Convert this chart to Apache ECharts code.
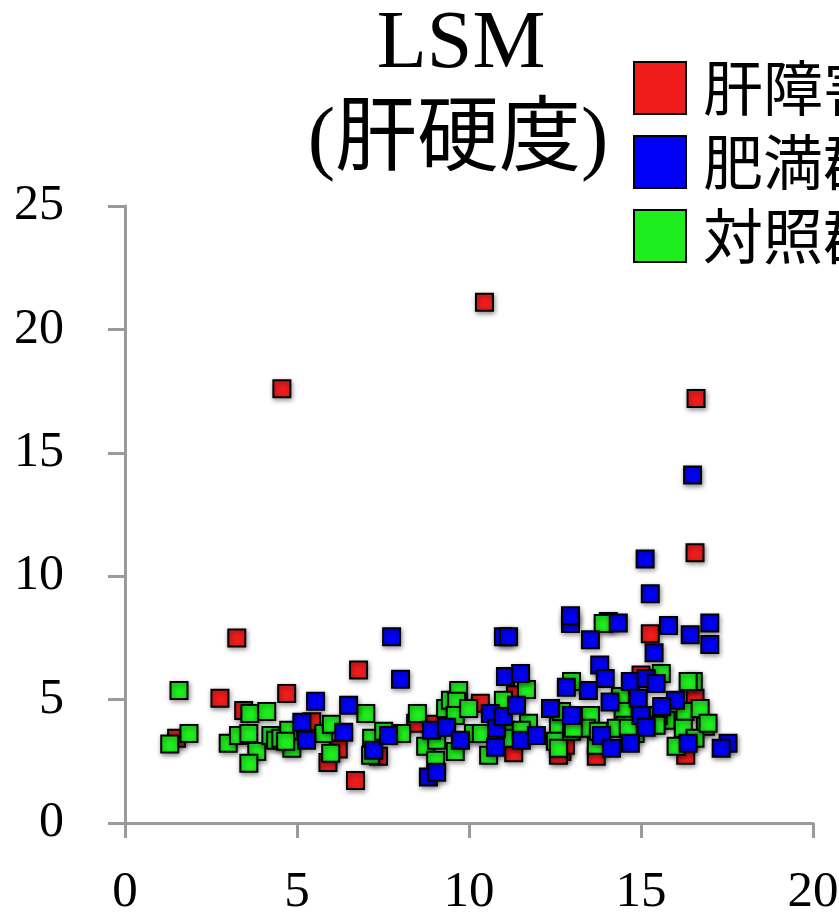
<!DOCTYPE html>
<html>
<head>
<meta charset="utf-8">
<script src="https://cdn.jsdelivr.net/npm/echarts@6/dist/echarts.min.js"></script>
<style>
  html, body { margin: 0; padding: 0; background: #fff; }
  #chart { width: 839px; height: 913px; }
</style>
</head>
<body>
<div id="chart"></div>
<script>
// LSM (liver stiffness) by group: [x, LSM]
const seriesNames = ['肝障害群', '肥満群', '対照群'];
const xTicks = [0, 5, 10, 15, 20];
const yTicks = [0, 5, 10, 15, 20, 25];

const liverPts = [
  [4.56, 17.6], [10.45, 21.1], [16.6, 17.2], [16.57, 10.95], [15.27, 7.67],
  [3.25, 7.5], [2.76, 5.05], [4.7, 5.25], [6.79, 6.2], [6.7, 1.72],
  [3.45, 4.56], [1.5, 3.43], [5.43, 4.1], [6.2, 3.0], [5.9, 2.45],
  [7.37, 2.7], [8.9, 4.0], [10.33, 4.85], [11.35, 5.2], [11.3, 2.85],
  [12.7, 2.9], [12.8, 3.15], [12.6, 2.75], [15.0, 6.0], [16.57, 5.05],
  [13.7, 2.7], [16.3, 2.75], [8.45, 4.04]
];

const obesePts = [
  [16.5, 14.1], [15.12, 10.7], [15.27, 9.29], [15.38, 6.9], [14.34, 8.1],
  [16.43, 7.63], [17.0, 8.1], [17.0, 7.23], [15.8, 8.0], [12.95, 8.08],
  [12.95, 8.4], [13.53, 7.43], [13.8, 6.4], [13.96, 5.86], [12.83, 5.5],
  [13.47, 5.37], [14.69, 5.73], [15.15, 5.86], [15.44, 5.65], [14.1, 4.9],
  [14.92, 5.05], [16.0, 4.97], [15.6, 4.72], [12.98, 4.36], [15.0, 4.36],
  [15.15, 3.88], [13.85, 3.55], [14.69, 3.23], [14.14, 3.03], [16.37, 3.23],
  [17.53, 3.23], [17.33, 3.03],
  [7.75, 7.55], [8.01, 5.82], [6.5, 4.77], [6.36, 3.68], [7.23, 2.95],
  [7.66, 3.55], [8.91, 3.76], [9.35, 3.88], [9.75, 3.35], [8.82, 1.86],
  [9.06, 2.06], [10.62, 4.44], [10.8, 3.84], [11.0, 4.32], [10.77, 3.07],
  [11.06, 5.94], [11.5, 6.06], [11.0, 7.55], [11.15, 7.55], [11.38, 4.77],
  [11.52, 3.35], [11.96, 3.55], [12.37, 4.64], [5.54, 4.93], [5.14, 4.08],
  [5.28, 3.35]
];

const controlPts = [
  [1.57, 5.37], [1.3, 3.2], [1.86, 3.63], [3.0, 3.23], [3.3, 3.55],
  [3.63, 4.44], [4.12, 4.52], [3.6, 3.63], [3.83, 2.9], [3.6, 2.42],
  [4.24, 3.55], [4.38, 3.35], [4.53, 3.43], [4.76, 3.76], [4.85, 3.03],
  [4.67, 3.31], [5.78, 3.63], [6.0, 4.0], [5.98, 2.83], [7.0, 4.44],
  [7.17, 3.43], [7.14, 2.75], [7.52, 3.72], [8.04, 3.63], [8.5, 4.44],
  [8.74, 3.11], [9.06, 3.35], [9.03, 2.54], [9.32, 4.64], [9.46, 4.97],
  [9.7, 5.37], [9.64, 4.93], [9.6, 4.36], [9.99, 4.64], [9.6, 2.9],
  [10.13, 3.63], [10.36, 3.63], [10.57, 2.75], [11.0, 4.97], [11.06, 3.76],
  [11.2, 3.43], [11.67, 5.41], [11.73, 4.04], [11.52, 3.76], [12.6, 3.92],
  [12.51, 3.31], [12.6, 3.03], [12.98, 5.73], [12.98, 3.72],
  [14.05, 8.16], [13.9, 8.08], [15.59, 6.06], [16.52, 5.73], [16.37, 5.73],
  [14.4, 5.13], [13.53, 4.36], [12.69, 4.52], [14.48, 4.52], [14.54, 3.96],
  [14.28, 3.84], [13.41, 3.84], [13.03, 3.84], [15.73, 4.16], [15.5, 4.36],
  [16.28, 4.52], [16.72, 4.64], [16.87, 3.92], [16.23, 3.84], [16.57, 3.43],
  [16.02, 3.11], [13.7, 3.15], [14.83, 3.63], [14.63, 3.84], [15.44, 3.96],
  [13.76, 3.72], [16.95, 4.04]
];

const colors = { liver: '#f01c1c', obese: '#0000f6', control: '#1eee1e' };

const serif = "'Liberation Serif', 'Times New Roman', serif";
const cjk = "'Liberation Serif', 'Noto Sans CJK JP', sans-serif";
const axisGray = '#9a9a9a';

function markStyle(color) {
  return {
    color: color,
    opacity: 1,
    borderColor: '#000',
    borderWidth: 2,
    shadowBlur: 5,
    shadowColor: 'rgba(0,0,0,0.45)',
    shadowOffsetX: 1,
    shadowOffsetY: 2
  };
}

const chart = echarts.init(document.getElementById('chart'), null, { renderer: 'canvas' });

chart.setOption({
  animation: false,
  backgroundColor: '#fff',
  title: [
    {
      text: 'LSM',
      left: 461, top: 4, textAlign: 'center', padding: 0,
      textStyle: { fontFamily: serif, fontSize: 82, fontWeight: 'normal', color: '#000' }
    },
    {
      text: '(肝硬度)',
      left: 458, top: 101, textAlign: 'center', padding: 0,
      textStyle: { fontFamily: cjk, fontSize: 82, fontWeight: 'normal', color: '#000' }
    }
  ],
  legend: {
    data: seriesNames,
    orient: 'vertical',
    left: 633, top: 58,
    padding: 0,
    itemWidth: 52, itemHeight: 52, itemGap: 14,
    icon: 'rect',
    textStyle: {
      fontFamily: "'Noto Sans CJK JP', sans-serif",
      fontSize: 60, color: '#000',
      padding: [0, 0, 0, 12]
    }
  },
  grid: {
    left: 125, right: 26, top: 206, bottom: 90,
    containLabel: false,
    outerBoundsMode: 'none'
  },
  xAxis: {
    type: 'value',
    min: xTicks[0], max: xTicks[xTicks.length - 1], interval: 5,
    axisLine: { show: true, lineStyle: { color: axisGray, width: 3 } },
    axisTick: { show: true, length: 15, lineStyle: { color: axisGray, width: 3 } },
    splitLine: { show: false },
    axisLabel: { margin: 44, fontFamily: serif, fontSize: 51, color: '#000' }
  },
  yAxis: {
    type: 'value',
    min: yTicks[0], max: yTicks[yTicks.length - 1], interval: 5,
    axisLine: { show: true, lineStyle: { color: axisGray, width: 3 } },
    axisTick: { show: true, length: 17, lineStyle: { color: axisGray, width: 3 } },
    splitLine: { show: false },
    axisLabel: { margin: 61, fontFamily: serif, fontSize: 50, color: '#000' }
  },
  series: [
    {
      name: seriesNames[0], type: 'scatter', symbol: 'rect', symbolSize: 17,
      data: liverPts, itemStyle: markStyle(colors.liver), z: 2
    },
    {
      name: seriesNames[2], type: 'scatter', symbol: 'rect', symbolSize: 17,
      data: controlPts, itemStyle: markStyle(colors.control), z: 3
    },
    {
      name: seriesNames[1], type: 'scatter', symbol: 'rect', symbolSize: 17,
      data: obesePts, itemStyle: markStyle(colors.obese), z: 4
    }
  ]
});
</script>
</body>
</html>
